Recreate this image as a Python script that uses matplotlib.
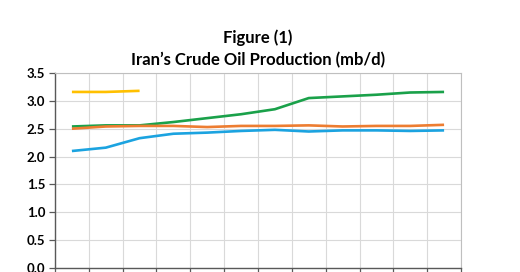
import numpy as np
import matplotlib.pyplot as plt

# values (mb/d), 12 periods
periods = np.arange(12)
yellow_vals = [3.16, 3.16, 3.18]
green_vals = [2.54, 2.56, 2.56, 2.62, 2.69, 2.76, 2.85, 3.05, 3.08, 3.11, 3.15, 3.16]
orange_vals = [2.50, 2.54, 2.55, 2.55, 2.53, 2.55, 2.55, 2.56, 2.54, 2.55, 2.55, 2.57]
blue_vals = [2.10, 2.16, 2.33, 2.41, 2.43, 2.46, 2.48, 2.45, 2.47, 2.47, 2.46, 2.47]
y_ticks = [0.0, 0.5, 1.0, 1.5, 2.0, 2.5, 3.0, 3.5]

plt.rcParams['font.family'] = ['Lato', 'DejaVu Sans']

fig = plt.figure(figsize=(5.2, 2.72), dpi=100)
ax = fig.add_axes([55/520, 4/272, 406/520, 195/272])

lw = 1.9
ax.plot(periods[:len(yellow_vals)], yellow_vals, color='#FFC000', lw=lw, solid_capstyle='butt')
ax.plot(periods, green_vals, color='#1AA14A', lw=lw, solid_capstyle='butt')
ax.plot(periods, orange_vals, color='#ED7D31', lw=lw, solid_capstyle='butt')
ax.plot(periods, blue_vals, color='#1BA3E0', lw=lw, solid_capstyle='butt')

ax.set_xlim(-0.5, 11.5)
ax.set_ylim(0, 3.5)
ax.set_yticks(y_ticks)
ax.set_yticklabels([f'{v:.1f}' for v in y_ticks], fontweight='bold', fontsize=9.5)

# category boundaries as gridlines / tick marks
bounds = np.arange(-0.5, 12, 1)
ax.set_xticks(bounds)
ax.set_xticklabels([])
ax.tick_params(axis='x', length=4, color='#595959', width=0.9)
ax.tick_params(axis='y', length=4, color='#595959', width=0.9, pad=3)
ax.grid(True, color='#d9d9d9', lw=0.8)
ax.set_axisbelow(True)

for s in ['top', 'right']:
    ax.spines[s].set_color('#bfbfbf')
    ax.spines[s].set_linewidth(0.8)
for s in ['left', 'bottom']:
    ax.spines[s].set_color('#595959')
    ax.spines[s].set_linewidth(1.0)

fig.text(258/520, 1 - 38/272, 'Figure (1)', ha='center', va='center',
         fontsize=12, fontweight='bold')
fig.text(258/520, 1 - 60/272, 'Iran\u2019s Crude Oil Production (mb/d)', ha='center', va='center',
         fontsize=12, fontweight='bold')

fig.savefig('out.png', dpi=100)
